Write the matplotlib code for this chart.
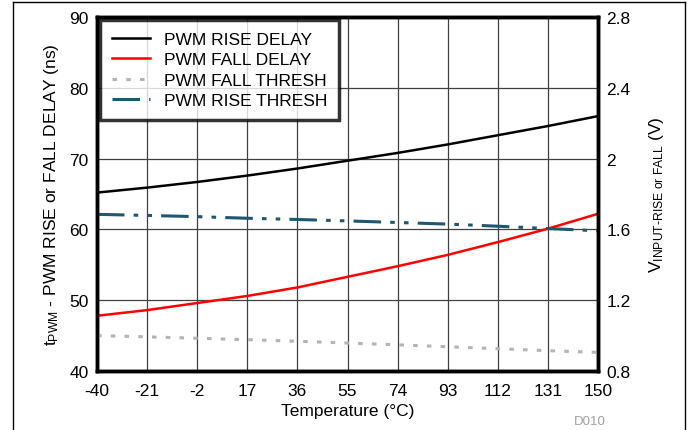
import matplotlib
matplotlib.use("Agg")
import matplotlib.pyplot as plt
from matplotlib.lines import Line2D

plt.rcParams["font.family"] = ["Liberation Sans", "DejaVu Sans"]
plt.rcParams["mathtext.fontset"] = "custom"
plt.rcParams["mathtext.rm"] = "Liberation Sans"
plt.rcParams["mathtext.it"] = "Liberation Sans"
plt.rcParams["axes.unicode_minus"] = False

temps = [-40, -21, -2, 17, 36, 55, 74, 93, 112, 131, 150]
rise_delay = [65.2, 65.9, 66.7, 67.6, 68.6, 69.7, 70.8, 72.0, 73.3, 74.6, 76.0]
fall_delay = [47.8, 48.6, 49.6, 50.6, 51.8, 53.3, 54.8, 56.4, 58.2, 60.1, 62.2]
fall_thresh = [1.000, 0.993, 0.985, 0.977, 0.968, 0.958, 0.948, 0.937, 0.926, 0.915, 0.905]
rise_thresh = [1.685, 1.679, 1.672, 1.663, 1.656, 1.648, 1.639, 1.630, 1.618, 1.605, 1.592]

x_ticks = temps
y_left_ticks = [40, 50, 60, 70, 80, 90]
y_right_ticks = [0.8, 1.2, 1.6, 2.0, 2.4, 2.8]
y_right_labels = ["0.8", "1.2", "1.6", "2", "2.4", "2.8"]

fig = plt.figure(figsize=(6.91, 4.31), dpi=100)
ax = fig.add_axes([97 / 691, 1 - 372 / 431, (598 - 97) / 691, (372 - 18) / 431])
ax2 = ax.twinx()

fs = 12.5
l1, = ax.plot(temps, rise_delay, color="black", lw=1.8, label="PWM RISE DELAY")
l2, = ax.plot(temps, fall_delay, color="#ff0000", lw=1.8, label="PWM FALL DELAY")
l3, = ax2.plot(temps, fall_thresh, color="#b4b4b4", lw=2.2, ls=(0, (1.5, 3)),
               label="PWM FALL THRESH")
l4, = ax2.plot(temps, rise_thresh, color="#1f5670", lw=2.2,
               ls=(0, (9, 3, 1.5, 3, 1.5, 3)), label="PWM RISE THRESH")

ax.set_xlim(-40, 150)
ax.set_ylim(40, 90)
ax2.set_ylim(0.8, 2.8)
ax.set_xticks(x_ticks)
ax.set_yticks(y_left_ticks)
ax2.set_yticks(y_right_ticks)
ax2.set_yticklabels(y_right_labels)
ax.grid(True, color="#404040", lw=0.9)
ax.set_axisbelow(True)
for a in (ax, ax2):
    a.tick_params(length=0, labelsize=fs, pad=6)
    for s in a.spines.values():
        s.set_linewidth(2.5)
ax.tick_params(axis="x", pad=9)

ax.set_xlabel("Temperature (°C)", fontsize=fs, labelpad=3)
ax.set_ylabel(r"t$_{\mathrm{PWM}}$ - PWM RISE or FALL DELAY (ns)", fontsize=fs, labelpad=6)
ax2.set_ylabel(r"V$_{\mathrm{INPUT\text{-}RISE\ or\ FALL}}$ (V)", fontsize=fs, labelpad=12)

leg = ax.legend(handles=[l1, l2, l3, l4], loc="upper left", fontsize=fs,
                frameon=True, fancybox=False, borderaxespad=0.15, handlelength=2.2,
                labelspacing=0.3, borderpad=0.7, handletextpad=0.8)
leg.get_frame().set_edgecolor("black")
leg.get_frame().set_linewidth(2.5)
leg.set_zorder(10)
ax2.set_zorder(ax.get_zorder() + 1)
ax2.patch.set_visible(False)
leg.remove()
ax2.add_artist(leg)

fig.text(590 / 691, 1 - 422 / 431, "D010", color="#a0a0a0", fontsize=9.5,
         ha="center", va="center")

# outer frame (top, left, right)
for xs, ys in [([13, 685], [3, 3]), ([13, 13], [3, 431]), ([685, 685], [3, 431])]:
    fig.add_artist(Line2D([x / 691 for x in xs], [1 - y / 431 for y in ys],
                          color="black", lw=1.0))

fig.savefig("out.png", dpi=100)
